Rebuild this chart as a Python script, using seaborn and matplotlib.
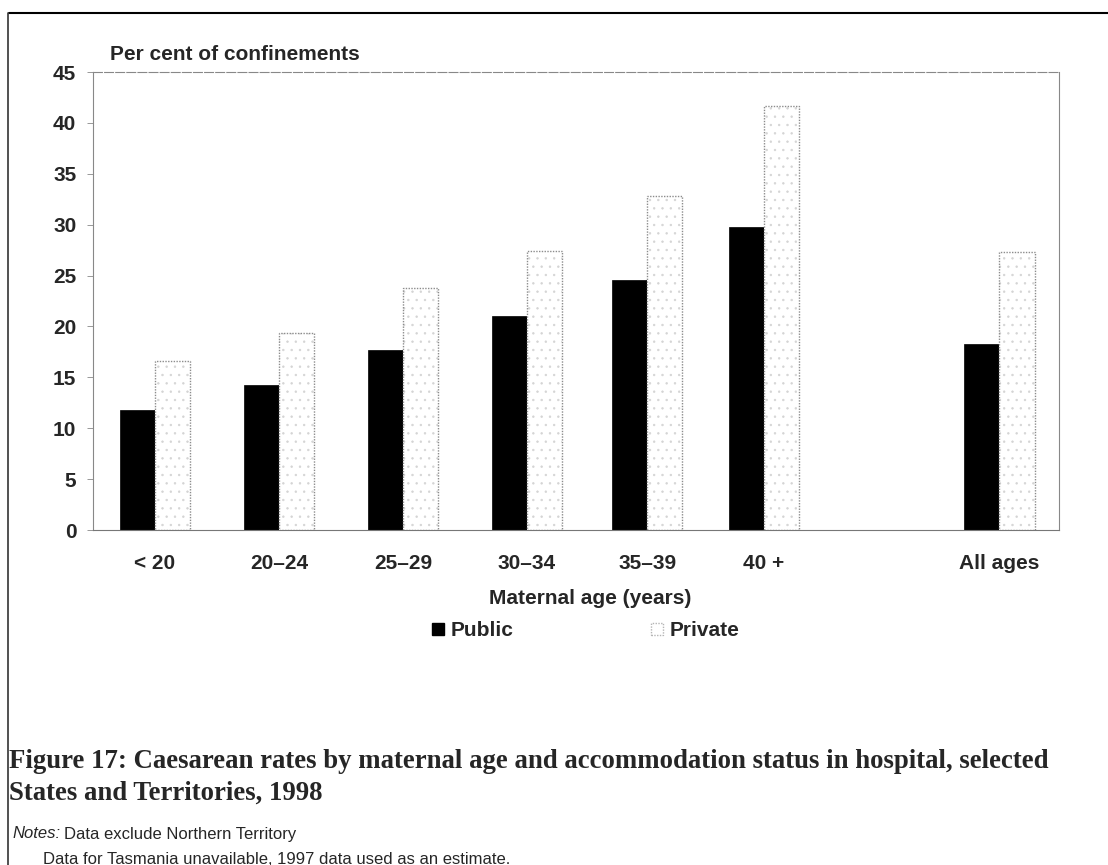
import numpy as np
import pandas as pd
import matplotlib
matplotlib.use("Agg")
import matplotlib.pyplot as plt
import seaborn as sns
from matplotlib.patches import Patch, Rectangle
from matplotlib.lines import Line2D

# data
age_groups = ["< 20", "20\u201324", "25\u201329", "30\u201334", "35\u201339", "40 +", "All ages"]
group_pos = [0, 1, 2, 3, 3.97, 4.91, 6.81]   # "All ages" sits apart from the rest
public = [11.8, 14.2, 17.7, 21.0, 24.6, 29.8, 18.3]
private = [16.6, 19.4, 23.8, 27.4, 32.8, 41.7, 27.3]
status = ["Public", "Private"]

df = pd.DataFrame({
    "pos": group_pos * 2,
    "rate": public + private,
    "status": [status[0]] * len(public) + [status[1]] * len(private),
})

sns.set_style("white")
plt.rcParams["font.family"] = ["Liberation Sans", "DejaVu Sans"]
plt.rcParams["hatch.linewidth"] = 0.5

W, H = 1108, 865
fig = plt.figure(figsize=(W / 100, H / 100), dpi=100)
ax = fig.add_axes([93 / W, 1 - 530 / H, (1059 - 93) / W, (530 - 72) / H])

# seaborn scales the width by the smallest gap between positions
bar_w = 0.565 / np.min(np.diff(group_pos))
sns.barplot(data=df, x="pos", y="rate", hue="status", hue_order=status,
            palette={"Public": "black", "Private": "white"},
            native_scale=True, width=bar_w, gap=0, dodge=True,
            legend=False, ax=ax, saturation=1)

# private bars: white with a faint speckle (hatch takes the edge colour),
# then a darker dotted outline laid over the same bar
for bar in list(ax.patches):
    if bar.get_facecolor()[0] > 0.5:
        bar.set_edgecolor("#d4d4d4")
        bar.set_linewidth(0)
        bar.set_hatch("..")
        outline = Rectangle(bar.get_xy(), bar.get_width(), bar.get_height(),
                            fill=False, edgecolor="#8c8c8c", linewidth=1.0,
                            linestyle=(0, (1, 1)))
        ax.add_patch(outline)
    else:
        bar.set_edgecolor("black")
        bar.set_linewidth(0.5)

ax.set_xlim(-0.5, 7.29)
ax.set_ylim(0, 45)
ax.set_yticks(np.arange(0, 46, 5))
ax.set_xticks(group_pos)
ax.set_xticklabels(age_groups)
ax.tick_params(axis="y", length=4, width=0.6, color="#888888", pad=8,
               labelsize=15, left=True)
ax.tick_params(axis="x", length=0, pad=17, labelsize=15)
for lab in ax.get_xticklabels() + ax.get_yticklabels():
    lab.set_fontweight("bold")

for side in ["top", "right", "left"]:
    ax.spines[side].set_color("#888888")
    ax.spines[side].set_linewidth(0.8)
    ax.spines[side].set_linestyle((0, (1, 1)))
ax.spines["top"].set_linestyle((0, (8, 2)))
ax.spines["bottom"].set_color("#777777")
ax.spines["bottom"].set_linewidth(0.8)

ax.set_xlabel("")
ax.set_ylabel("")
fig.text(110 / W, 1 - 55 / H, "Per cent of confinements", fontsize=15,
         fontweight="bold", va="center", ha="left")
fig.text(590 / W, 1 - 599 / H, "Maternal age (years)", fontsize=15,
         fontweight="bold", va="center", ha="center")

handles = [
    Patch(facecolor="black", edgecolor="black"),
    Patch(facecolor="white", edgecolor="#b5b5b5", linestyle=(0, (1, 1))),
]
fig.legend(handles, status, loc="center", bbox_to_anchor=(586 / W, 1 - 631 / H),
           ncol=2, frameon=False, handlelength=0.55, handleheight=0.55,
           handletextpad=0.35, columnspacing=6.6,
           prop={"weight": "bold", "size": 15})

# page frame from the scanned report
fig.add_artist(Line2D([9 / W, 1], [1 - 13 / H] * 2, color="black", lw=1.5,
                      transform=fig.transFigure))
fig.add_artist(Line2D([8 / W] * 2, [0, 1 - 13 / H], color="#333333", lw=1.2,
                      transform=fig.transFigure))

serif = ["Liberation Serif", "DejaVu Serif"]
fig.text(9 / W, 1 - 761 / H,
         "Figure 17: Caesarean rates by maternal age and accommodation status in hospital, selected",
         fontsize=19.3, fontweight="bold", family=serif, va="center", ha="left")
fig.text(9 / W, 1 - 793 / H, "States and Territories, 1998",
         fontsize=19.3, fontweight="bold", family=serif, va="center", ha="left")
fig.text(12 / W, 1 - 834 / H, "Notes:", fontsize=12, style="italic",
         va="center", ha="left")
fig.text(64 / W, 1 - 834 / H, "Data exclude Northern Territory", fontsize=12,
         va="center", ha="left")
fig.text(43 / W, 1 - 859 / H, "Data for Tasmania unavailable, 1997 data used as an estimate.",
         fontsize=12, va="center", ha="left")

fig.savefig("out.png", dpi=100)
